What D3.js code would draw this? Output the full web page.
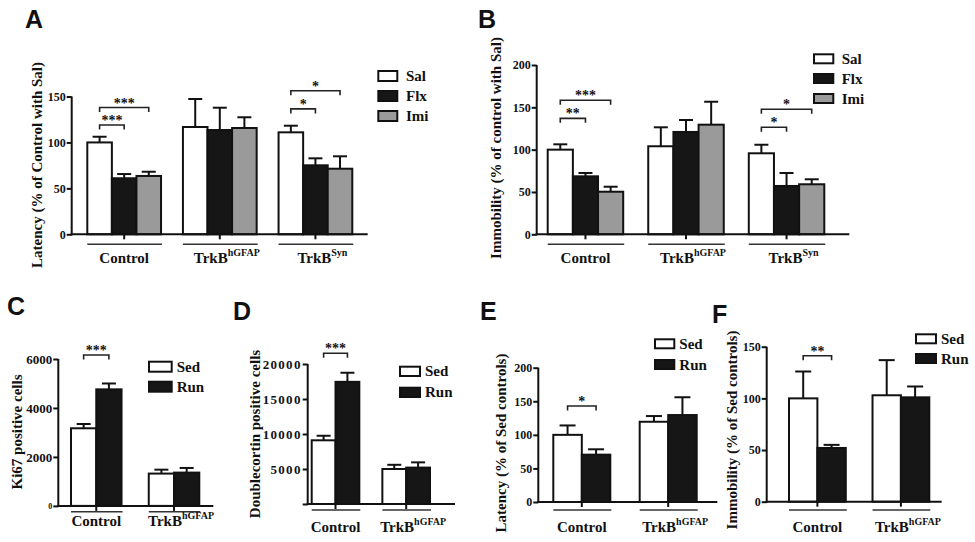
<!DOCTYPE html>
<html><head><meta charset="utf-8">
<script src="https://cdn.jsdelivr.net/npm/d3@7"></script>
<style>
body{margin:0;background:#fff}
svg{display:block}
</style>
</head><body><svg id="chart" width="975" height="542"></svg>
<script>
// ---------- data ----------
const drugGroups = ["Control", "TrkB|hGFAP", "TrkB|Syn"];
const runGroups = ["Control", "TrkB|hGFAP"];
const drugSeries = ["Sal", "Flx", "Imi"];
const runSeries = ["Sed", "Run"];

// A: Latency (% of Control with Sal)
const aSal = [100, 116.8, 111.0], aSalSem = [6.2, 30.5, 7.2];
const aFlx = [61.0, 113.5, 75.1], aFlxSem = [4.6, 24.3, 7.6];
const aImi = [63.5, 115.7, 71.4], aImiSem = [4.6, 11.7, 13.5];
const aTicks = [0, 50, 100, 150];

// B: Immobility (% of control with Sal)
const bSal = [100, 104.0, 95.7], bSalSem = [6.3, 22.4, 10.1];
const bFlx = [68.5, 120.9, 57.1], bFlxSem = [3.9, 14.1, 15.3];
const bImi = [50.3, 129.5, 59.1], bImiSem = [5.9, 27.1, 5.9];
const bTicks = [0, 50, 100, 150, 200];

// C: Ki67 positive cells
const cSed = [3170, 1320], cSedSem = [175, 160];
const cRun = [4760, 1360], cRunSem = [240, 190];
const cTicks = [0, 2000, 4000, 6000];

// D: Doublecortin positive cells
const dSed = [9100, 5000], dSedSem = [650, 600];
const dRun = [17450, 5200], dRunSem = [1300, 750];
const dTicks = [0, 5000, 10000, 15000, 20000];

// E: Latency (% of Sed controls)
const eSed = [100, 119.5], eSedSem = [14, 8.5];
const eRun = [70.5, 129.5], eRunSem = [8, 26.5];
const eTicks = [0, 50, 100, 150, 200];

// F: Immobility (% of Sed controls)
const fSed = [100, 103], fSedSem = [26, 34];
const fRun = [52, 101], fRunSem = [3, 10.5];
const fTicks = [0, 50, 100, 150];

// significance annotations: [group, series a, series b, level (data units), label]
const aSig = [[0, 0, 1, 119, "***"], [0, 0, 2, 138, "***"], [2, 0, 1, 136.5, "*"], [2, 0, 2, 156.3, "*"]];
const bSig = [[0, 0, 1, 137, "**"], [0, 0, 2, 158.3, "***"], [2, 0, 1, 126.4, "*"], [2, 0, 2, 147.7, "*"]];
const cSig = [[0, 0, 1, 6164, "***"]];
const dSig = [[0, 0, 1, 21530, "***"]];
const eSig = [[0, 0, 1, 142.9, "*"]];
const fSig = [[0, 0, 1, 141.2, "**"]];

// ---------- drawing ----------
const SERIF = "'Liberation Serif', 'Times New Roman', Tinos, 'DejaVu Serif', serif";
const SANS = "'Liberation Sans', Arial, Arimo, sans-serif";
const svg = d3.select("#chart");
const WHITE = "#ffffff", BLACK = "#161616", GREY = "#9a9a9a";

function txt(sel, size) {
  return sel.append("text").attr("font-family", SERIF).style("font-family", SERIF)
    .attr("font-weight", "bold").attr("fill", "#111").attr("font-size", size);
}

function catLabel(sel, label, x, y) {
  const parts = label.split("|");
  const t = txt(sel, 15).attr("x", x + (parts.length > 1 ? 7 : 0)).attr("y", y)
    .attr("text-anchor", "middle");
  t.append("tspan").text(parts[0]);
  if (parts.length > 1) t.append("tspan").attr("font-size", 10).attr("dy", -7).text(parts[1]);
}

function drawPanel(p) {
  const g = svg.append("g");
  const y = d3.scaleLinear().domain([0, p.yMax]).range([p.y0, p.yTop]);
  const xg = d3.scaleBand().domain(p.groups).range(p.barRange).paddingInner(p.pad).paddingOuter(0);
  const xs = d3.scaleBand().domain(p.series).range([0, xg.bandwidth()]).padding(0);

  // letter
  g.append("text").attr("x", p.letter[1]).attr("y", p.letter[2])
    .style("font-family", SANS).attr("font-weight", "bold").attr("fill", "#111")
    .attr("font-size", 25).text(p.letter[0]);

  // bars
  p.series.forEach((s, si) => {
    p.groups.forEach((grp, gi) => {
      const m = p.means[si][gi], e = p.sems[si][gi];
      const x0 = xg(grp) + xs(s), w = xs.bandwidth(), cx = x0 + w / 2;
      g.append("line").attr("x1", cx).attr("x2", cx).attr("y1", y(m)).attr("y2", y(m + e))
        .attr("stroke", "#111").attr("stroke-width", 2);
      g.append("line").attr("x1", cx - p.capW / 2).attr("x2", cx + p.capW / 2)
        .attr("y1", y(m + e)).attr("y2", y(m + e)).attr("stroke", "#111").attr("stroke-width", 2);
      g.append("rect").attr("x", x0).attr("y", y(m)).attr("width", w).attr("height", p.y0 - y(m))
        .attr("fill", p.colors[si]).attr("stroke", "#111").attr("stroke-width", 2);
    });
  });

  // y axis
  const yAxis = d3.axisLeft(y).tickValues(p.ticks).tickSize(5).tickPadding(p.tickPad || 1)
    .tickFormat(d => (p.hideZero && d === 0) ? "" : d);
  const ya = g.append("g").attr("transform", `translate(${p.ax},0)`).call(yAxis)
    .attr("font-family", SERIF);
  ya.select(".domain").remove();
  ya.selectAll(".tick line").attr("stroke", "#111").attr("stroke-width", 2);
  ya.selectAll(".tick text").attr("font-size", p.tickFont).attr("fill", "#111")
    .style("font-family", SERIF).attr("font-weight", "bold")
    .style("letter-spacing", (p.tickSpacing || 0) + "px");
  if (p.smallZero) ya.selectAll(".tick text").filter(d => d === 0).attr("font-size", 8);
  g.append("line").attr("x1", p.ax).attr("x2", p.ax).attr("y1", p.y0 + 1).attr("y2", y(p.yMax))
    .attr("stroke", "#111").attr("stroke-width", 2);

  // x axis
  g.append("line").attr("x1", p.ax - 1).attr("x2", p.xEnd).attr("y1", p.y0).attr("y2", p.y0)
    .attr("stroke", "#111").attr("stroke-width", 2);
  p.groups.forEach(grp => {
    const cx = xg(grp) + xg.bandwidth() / 2;
    g.append("line").attr("x1", cx).attr("x2", cx).attr("y1", p.y0).attr("y2", p.y0 + 5)
      .attr("stroke", "#111").attr("stroke-width", 2);
    g.append("line").attr("x1", xg(grp)).attr("x2", xg(grp) + xg.bandwidth() + 1)
      .attr("y1", p.underY).attr("y2", p.underY).attr("stroke", "#333").attr("stroke-width", 1.6);
    catLabel(g, grp, cx, p.labelY);
  });

  // significance brackets
  p.sig.forEach(([gi, a, b, v, lab]) => {
    const grp = p.groups[gi];
    const x1 = xg(grp) + xs(p.series[a]) + xs.bandwidth() / 2;
    const x2 = xg(grp) + xs(p.series[b]) + xs.bandwidth() / 2;
    const yy = y(v);
    g.append("path").attr("d", `M${x1},${yy + 4.5}V${yy}H${x2}V${yy + 4.5}`)
      .attr("fill", "none").attr("stroke", "#222").attr("stroke-width", 1.6);
    txt(g, 14).attr("x", (x1 + x2) / 2).attr("y", yy).attr("text-anchor", "middle").text(lab);
  });

  // legend
  p.series.forEach((s, si) => {
    const top = p.leg.tops[si];
    g.append("rect").attr("x", p.leg.x).attr("y", top).attr("width", p.leg.w).attr("height", p.leg.h)
      .attr("fill", p.colors[si]).attr("stroke", "#111").attr("stroke-width", 2);
    txt(g, 15).attr("x", p.leg.tx).attr("y", top + p.leg.h / 2 + 5).text(s);
  });

  // y title
  txt(g, 15).attr("transform", `translate(${p.ylab[1]},${p.ylab[2]}) rotate(-90)`)
    .attr("text-anchor", "middle").text(p.ylab[0]);
}

const drugColors = [WHITE, BLACK, GREY];
const runColors = [WHITE, BLACK];

drawPanel({
  letter: ["A", 25, 28], groups: drugGroups, series: drugSeries, colors: drugColors,
  means: [aSal, aFlx, aImi], sems: [aSalSem, aFlxSem, aImiSem], ticks: aTicks, tickFont: 12,
  yMax: 150, y0: 234.3, yTop: 96.5, ax: 71.7, xEnd: 367.7, barRange: [87.3, 352.3], pad: 0.229,
  capW: 14, underY: 244.3, labelY: 263, sig: aSig,
  leg: {x: 378.3, tops: [71, 91, 111], w: 19, h: 10, tx: 406},
  ylab: ["Latency (% of Control with Sal)", 42, 165]
});
drawPanel({
  letter: ["B", 478, 28], groups: drugGroups, series: drugSeries, colors: drugColors,
  means: [bSal, bFlx, bImi], sems: [bSalSem, bFlxSem, bImiSem], ticks: bTicks, tickFont: 12,
  yMax: 200, y0: 234.3, yTop: 65, ax: 536.7, xEnd: 849.3, barRange: [547.7, 824.3], pad: 0.249,
  capW: 14, underY: 244.3, labelY: 263, sig: bSig,
  leg: {x: 814, tops: [54.3, 74, 94], w: 19.3, h: 9, tx: 841.7},
  ylab: ["Immobility (% of control with Sal)", 500.5, 148]
});
drawPanel({
  letter: ["C", 7, 315], groups: runGroups, series: runSeries, colors: runColors,
  means: [cSed, cRun], sems: [cSedSem, cRunSem], ticks: cTicks, tickFont: 13, smallZero: true,
  yMax: 6000, y0: 505.9, yTop: 359, ax: 58.3, xEnd: 213.3, barRange: [71, 199.3], pad: 0.35,
  capW: 14, underY: 511.7, labelY: 525.5, sig: cSig,
  leg: {x: 149, tops: [361.7, 381.7], w: 22.7, h: 10, tx: 176.7},
  ylab: ["Ki67 positive cells", 21.7, 432]
});
drawPanel({
  letter: ["D", 233, 320], groups: runGroups, series: runSeries, colors: runColors,
  means: [dSed, dRun], sems: [dSedSem, dRunSem], ticks: dTicks, tickFont: 13, hideZero: true,
  tickSpacing: 1.3, tickPad: 0,
  yMax: 20000, y0: 504, yTop: 364, ax: 307.7, xEnd: 455, barRange: [311.7, 430], pad: 0.326,
  capW: 14, underY: 510, labelY: 532, sig: dSig,
  leg: {x: 400, tops: [366.7, 387.7], w: 20, h: 9.3, tx: 425},
  ylab: ["Doublecortin positive cells", 260, 434]
});
drawPanel({
  letter: ["E", 480, 319.5], groups: runGroups, series: runSeries, colors: runColors,
  means: [eSed, eRun], sems: [eSedSem, eRunSem], ticks: eTicks, tickFont: 12,
  yMax: 200, y0: 502, yTop: 367.7, ax: 538.3, xEnd: 717.3, barRange: [553.3, 696.7], pad: 0.34,
  capW: 16, underY: 510, labelY: 532, sig: eSig,
  leg: {x: 655, tops: [339.3, 360], w: 19.3, h: 9, tx: 679.3},
  ylab: ["Latency (% of Sed controls)", 505.5, 443]
});
drawPanel({
  letter: ["F", 712, 323], groups: runGroups, series: runSeries, colors: runColors,
  means: [fSed, fRun], sems: [fSedSem, fRunSem], ticks: fTicks, tickFont: 12,
  yMax: 150, y0: 501.7, yTop: 346.7, ax: 766.7, xEnd: 941.7, barRange: [789, 929.3], pad: 0.32,
  capW: 16, underY: 510, labelY: 532, sig: fSig,
  leg: {x: 916, tops: [334.3, 354], w: 20, h: 9, tx: 941},
  ylab: ["Immobility (% of Sed controls)", 737, 430]
});
</script>
</body></html>
